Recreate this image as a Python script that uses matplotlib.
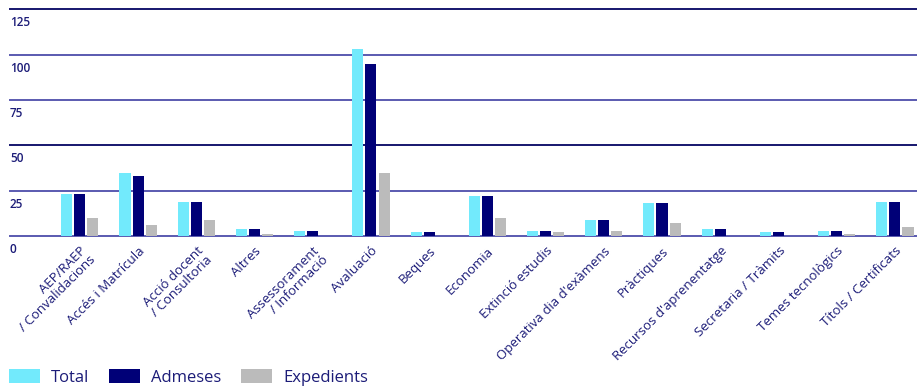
import numpy as np
import matplotlib
matplotlib.use('Agg')
import matplotlib.pyplot as plt
import matplotlib.transforms as mtransforms
from matplotlib.patches import Patch

# Data
categories = ['AEP/RAEP\n/ Convalidacions', 'Accés i Matrícula', 'Acció docent\n/ Consultoria',
              'Altres', 'Assessorament\n/ Informació', 'Avaluació', 'Beques', 'Economia',
              'Extinció estudis', "Operativa dia d'exàmens", 'Pràctiques',
              "Recursos d'aprenentatge", 'Secretaria / Tràmits', 'Temes tecnològics',
              'Títols / Certificats']
total = [23, 35, 19, 4, 3, 103, 2, 22, 3, 9, 18, 4, 2, 3, 19]
admeses = [23, 33, 19, 4, 3, 95, 2, 22, 3, 9, 18, 4, 2, 3, 19]
expedients = [10, 6, 9, 1, 0, 35, 0, 10, 2, 3, 7, 0, 0, 1, 5]
series_names = ['Total', 'Admeses', 'Expedients']
yticks = [0, 25, 50, 75, 100, 125]

# Style
TEXT = '#1c1c78'
COLORS = ['#72eafc', '#000077', '#bbbbbb']
GRID_DARK = '#16166e'
GRID_LIGHT = '#5a5ab0'
plt.rcParams['font.family'] = ['Open Sans', 'DejaVu Sans']

fig = plt.figure(figsize=(9.17, 3.88), dpi=100)
ax = fig.add_axes([10 / 917, 1 - 236 / 388, 907 / 917, (236 - 9.5) / 388])

# Grid lines first, bars on top, value labels just below each line
shift = mtransforms.ScaledTranslation(0, -5 / 72, fig.dpi_scale_trans)
for v in yticks:
    c = GRID_DARK if v in (50, 125) else GRID_LIGHT
    ax.axhline(v, color=c, lw=1.4, zorder=1, clip_on=False)
    ax.text(0.0, v, str(v), transform=ax.get_yaxis_transform() + shift, ha='left', va='top',
            fontsize=8.5, color=TEXT, fontweight='semibold')

x = np.arange(len(categories))
w = 0.19
step = 0.225
for i, (vals, col) in enumerate(zip([total, admeses, expedients], COLORS)):
    ax.bar(x + (i - 1) * step, vals, width=w, color=col, zorder=2)

ax.set_xlim(-1.2, len(categories) - 1 + 0.38)
ax.set_ylim(0, 125)
for s in ax.spines.values():
    s.set_visible(False)
ax.set_yticks([])
ax.set_xticks(x)
ax.set_xticklabels(categories, rotation=45, ha='right', rotation_mode='anchor',
                   fontsize=9.5, color=TEXT, linespacing=1.0, multialignment='right')
ax.tick_params(axis='x', length=0, pad=6)

# Legend
handles = [Patch(facecolor=c, edgecolor='none') for c in COLORS]
fig.legend(handles, series_names, loc='lower left', bbox_to_anchor=(0.003, -0.012),
           ncol=3, frameon=False, fontsize=12, handlelength=1.85, handleheight=0.95,
           handletextpad=0.65, columnspacing=1.2, labelcolor=TEXT, borderaxespad=0.2,
           borderpad=0.2)

fig.savefig('out.png', dpi=100, facecolor='white')
